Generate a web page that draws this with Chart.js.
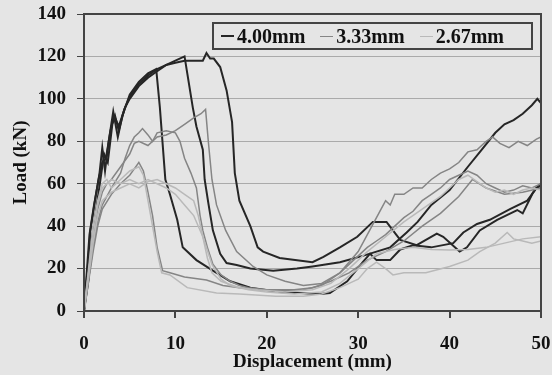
<!DOCTYPE html>
<html>
<head>
<meta charset="utf-8">
<script src="https://cdn.jsdelivr.net/npm/chart.js@4/dist/chart.umd.min.js"></script>
<style>
body{margin:0;background:#e5e5e5;}
#wrap{position:relative;width:552px;height:375px;}
#leyenda{position:absolute;left:212px;top:22px;width:317px;height:24px;border:2px solid #444;
 font:bold 20px "Liberation Serif",serif;color:#111;display:flex;align-items:center;}
#leyenda span.item{display:inline-flex;align-items:center;margin-left:7px;margin-right:8px;}
#leyenda span.linea{display:inline-block;width:13px;margin-right:3px;}
</style>
</head>
<body>
<div id="wrap">
<canvas id="chartCarga" width="552" height="375"></canvas>
<div id="leyenda"></div>
</div>
<script>
// displacement (mm) / load (kN)
var disp400a=[0,0.4,0.7,1.2,1.7,2,2.3,2.7,3.2,3.7,4.2,5,6,7,7.9,8.3,8.9,9.4,10.2,10.8,12.3,14.1,16,18.2,21.4,25.8,26.9,28.8,30.5,31.3,32,33.5,34.6,36,38,40.4,41.5,43,44.4,46.6,48.5,49.5,50];
var load400a=[0,20,38,52,65,77,66,80,94,82,92,102,108,112,114,96,62,55,43,30,24,19,14,11,9,8,8.5,14,23,27,24,24,29,31,30,32,37,41,43,48,52,58,59];
var disp400b=[0,0.5,0.9,1.4,1.9,2.2,2.6,3.1,3.4,3.8,4.4,5,6,7,8,9,10,11,11.3,11.9,12.3,13,13.2,13.6,14.1,14.9,15.6,16.7,18.2,20.7,23.3,25,28,30.5,33.5,35.3,36.5,38,40,42,43.5,45,46,47,48,49,49.6,50];
var load400b=[0,15,35,50,65,74,70,88,92,85,95,101,107,111,114,116,118,120,112,96,87,76,62,51,38,27,22.6,21.7,20,19,20,21,23,26,30,37,42,50,57,68,76,84,88,90,93,97,100,98];
var disp400c=[0,0.3,0.6,1.1,1.6,2,2.4,2.9,3.3,3.8,4.5,5,6,7,8,9,10,11,12,13,13.4,13.8,14.2,14.9,15.6,16.2,16.5,17,18.2,19,19.6,21.4,25,26.2,28,29.9,31.6,33.1,33.8,34.6,36.4,38.6,39.3,41.1,41.9,43.3,45.2,47.4,48,49.1,49.5,50];
var load400c=[0,18,36,50,62,70,72,85,92,87,96,100,106,110,113,116,117,118,118,118,121.6,119,119,115,104,89,65,52,40,30,28,25,23,25.5,30,35,42,42,38,33.5,31,36.5,35,28,30,38,43,47.6,46,55.6,58,60];

var disp333a=[0,0.5,1,1.5,2,2.5,3,4,5,5.5,6,7,8,9,10,11,12,12.8,13.3,13.6,14,14.5,15.5,16.7,18.5,20,22,24,26,28,30,31.5,32.5,33,33.5,34,35,36,37,38,39,40,41,42,43,44,44.7,45.5,46.5,47.5,48.5,49.5,50];
var load333a=[0,18,35,48,56,60,62,68,74,79,80,78,82,83,85,88,91,93,95,80,62,50,38,28,21,17,14,12,13,18,28,40,48,52,50,55,55,58,58,62,65,67,70,75,76,80,82,79,77,80,78,81,82];
var disp333b=[0,0.5,1,1.5,2,3,4,4.5,5,5.5,6,6.4,7,7.5,8,9,10,10.5,11,11.7,12.3,12.7,13,13.5,14.1,15,16,17,18,20,22,24,26,28,29,30,31,32,33,34,35,36,37,38,39,40,41,42,43,44,45,46,47,48,49,50];
var load333b=[0,15,30,42,50,58,65,72,78,82,84,86,83,80,84,85,84,80,72,65,58,45,38,30,22,17,14,12,11,10,9.5,10,12,18,22,26,30,33,36,40,44,47,52,55,58,62,64,66,64,60,58,56,57,59,58,60];
var disp333c=[0,0.5,1,1.5,2,3,4,5,5.5,6,6.5,7,7.5,8,8.6,9.4,11,13.4,15.2,17,19,21.4,23,25,27,29,31,33,35,37,39,41,42.5,44,46,48,50];
var load333c=[0,14,28,40,48,55,60,64,67,70,66,56,45,30,19,18,16,14.6,12,11,10,10,10,11,14,18,24,28,33,40,46,54,62,58,55,56,58];

var disp267a=[0,0.5,1,1.5,2,2.5,3,4,5,6,6.5,7,7.5,8,8.5,9.4,11.3,14.5,17,21,24,26,28,30,31,32,33,33.8,35,37.4,40,42,43.3,45,46.3,47,48,49,50];
var load267a=[0,20,40,52,60,62,58,62,66,68,64,52,40,28,18,17,11,8.5,8,7,7,8,11,15,20,23,20,17,18,18,21,24,28,32,37,34,33,32,33];
var disp267b=[0,0.5,1,1.5,2,3,4,5,6,7,8,9,10,11,12,13,14,15,16,18,20,23,26,28,30,32,34,36,38,40,42,44,46,48,50];
var load267b=[0,18,36,50,58,62,60,62,60,62,60,58,55,50,45,35,22,15,12,10,9,8,9,13,20,27,29,30,29,28.8,29,30,32,34,35];
var disp267c=[0,0.5,1,1.5,2,3,4,5,6,7,8,9,10,11,12,12.5,13,13.5,14,15,17,19,22,25,27,29,31,33,35,37,39,40,41,42,43,44,45,46,47,48,49,50];
var load267c=[0,16,32,45,52,56,58,60,58,61,62,60,58,55,52,45,35,25,18,14,11,10,9,10,13,20,28,35,42,48,54,58,62,64,61,58,56,57,55,57,58,57];

var grupos=["4.00mm","3.33mm","2.67mm"];
var coloresGrupo=["#262626","#858585","#b9b9b9"];
var anchosGrupo=[2,1.5,1.5];

var curvas=[
	[disp400a,load400a,0],[disp400b,load400b,0],[disp400c,load400c,0],
	[disp333a,load333a,1],[disp333b,load333b,1],[disp333c,load333c,1],
	[disp267a,load267a,2],[disp267b,load267b,2],[disp267c,load267c,2]
];

var ticksX=[0,10,20,30,40,50];
var ticksY=[0,20,40,60,80,100,120,140];

function puntos(xs,ys){
	return xs.map(function(v,i){ return {x:v,y:ys[i]}; });
}

// lighter groups first so the dark curves sit on top
var datasets=[];
for(var g=2;g>=0;g--){
	curvas.forEach(function(c){
		if(c[2]!=g) return;
		datasets.push({
			label:grupos[g],
			data:puntos(c[0],c[1]),
			borderColor:coloresGrupo[g],
			borderWidth:anchosGrupo[g],
			pointRadius:0,
			showLine:true,
			tension:0,
			fill:false
		});
	});
}

var marco={
	id:'marco',
	afterDraw:function(chart){
		var a=chart.chartArea, ctx=chart.ctx;
		ctx.save();
		ctx.strokeStyle='#444';
		ctx.lineWidth=2;
		ctx.strokeRect(a.left,a.top,a.right-a.left,a.bottom-a.top);
		ctx.restore();
	}
};

var fuente={family:'"Liberation Serif", serif',weight:'bold',size:19,lineHeight:1};

new Chart(document.getElementById("chartCarga"),{
	type:'scatter',
	data:{datasets:datasets},
	plugins:[marco],
	options:{
		responsive:false,
		animation:false,
		layout:{padding:{left:6,top:14,right:0,bottom:0}},
		plugins:{legend:{display:false},tooltip:{enabled:false}},
		scales:{
			x:{
				type:'linear',min:0,max:50,
				afterBuildTicks:function(s){ s.ticks=ticksX.map(function(v){return {value:v};}); },
				afterFit:function(s){ s.height=64; s.paddingLeft=0; s.paddingRight=11; },
				grid:{drawOnChartArea:false,tickLength:7,tickColor:'#444',lineWidth:2},
				border:{color:'#444',width:2},
				ticks:{color:'#111',font:fuente,padding:17,maxRotation:0},
				title:{display:true,text:'Displacement (mm)',color:'#111',font:fuente,padding:{top:0,bottom:3}}
			},
			y:{
				min:0,max:140,
				afterBuildTicks:function(s){ s.ticks=ticksY.map(function(v){return {value:v};}); },
				afterFit:function(s){ s.width=78; s.paddingTop=0; s.paddingBottom=0; },
				grid:{color:'#aaaaaa',tickLength:7,tickColor:'#444',lineWidth:1},
				border:{color:'#444',width:2},
				ticks:{color:'#111',font:fuente,padding:11},
				title:{display:true,text:'Load (kN)',color:'#111',font:fuente,padding:{top:6,bottom:4}}
			}
		}
	}
});

var ley=document.getElementById("leyenda");
grupos.forEach(function(n,i){
	ley.innerHTML+='<span class="item"><span class="linea" style="border-top:'+anchosGrupo[i]+'px solid '+coloresGrupo[i]+'"></span>'+n+'</span>';
});
</script>
</body>
</html>
